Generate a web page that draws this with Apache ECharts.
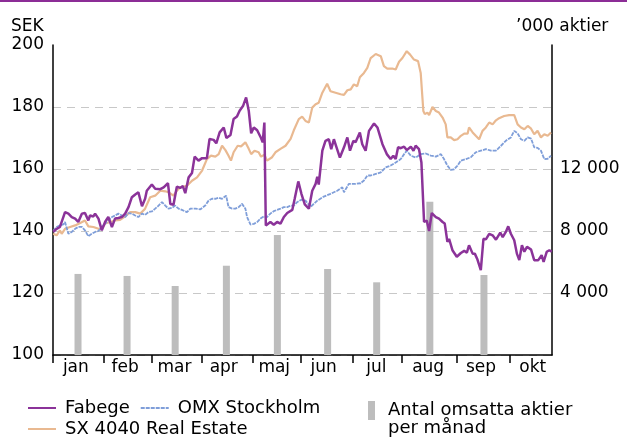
<!DOCTYPE html>
<html>
<head>
<meta charset="utf-8">
<script src="https://cdn.jsdelivr.net/npm/echarts@6/dist/echarts.min.js"></script>
<style>html,body{margin:0;padding:0;background:#fff}#c{width:627px;height:437px}</style>
</head>
<body>
<div id="c"></div>
<script>
// ---- data (x = trading-day index from 1 Jan) ----
const months = ['jan','feb','mar','apr','maj','jun','jul','aug','sep','okt'];
const monthStarts = [0,21,41,62,83,103,124.5,145,168,190];
const monthLabelPos = [9.5,30,50.5,71,92,112.5,134.5,156,178,199.5];
const leftTicks = [100,120,140,160,180,200];
const rightTickLabels = [4000,8000,12000];

const fabege = [[0.1,139.7],[1.5,140.7],[2.9,141.3],[3.6,140.7],[5,146.1],[6.4,145.6],[7.8,144.5],[9.2,144],[10.5,142.9],[12,145.6],[13.3,145.8],[14.7,143.4],[15.4,145],[16.8,144.7],[17.5,145.6],[18.9,144],[20.3,140.2],[21.7,143],[23,144.5],[24.5,141.3],[25.8,144],[27.2,144.2],[28.6,144.5],[30,145.6],[31.4,147.7],[32.8,150.9],[34.2,151.8],[35.5,152.5],[37,148],[38.3,150.4],[39,153],[41.1,155],[42.5,153.6],[44.6,153.5],[46,154.1],[47.8,155.4],[48.8,148.7],[50.1,148.5],[51.5,154.3],[52.9,153.9],[54,154.5],[55,152.2],[56.4,157.3],[57.8,158.7],[58.9,164],[60.5,162.7],[62,163.5],[64,163.5],[65.1,169.7],[66.8,169.4],[67.9,168.3],[69.3,171.8],[71,173.4],[72.1,170],[73.8,171],[75.1,176.1],[76.5,176.9],[77.6,178.8],[79,180.3],[80.3,183.1],[81.4,178.8],[82.4,171.5],[83.5,173.4],[84.9,172.5],[86.5,170],[87.2,168.6],[87.9,175],[88.5,141.8],[90.4,142.9],[91.8,142],[93.2,142.9],[94.6,142.4],[96,144.5],[97.4,145.8],[99.5,146.8],[100.5,150.4],[102,156],[103.3,152],[104.7,148.6],[106.4,147.2],[107.8,153],[109.2,155.2],[109.9,157.5],[110.5,155],[112,165.9],[113.3,169.1],[114.7,169.6],[115.7,166.4],[116.8,169.6],[117.9,167],[119.3,163.7],[121,167],[122.4,170.2],[123.5,165.9],[124.9,169.1],[125.8,168.6],[127.6,171.8],[128.6,168],[130,165.9],[131.4,172.3],[133.5,174.7],[134.9,173.4],[137,168],[138.8,164.8],[140.4,163.2],[141.5,164.3],[142.5,163.2],[143.5,167],[144.6,166.7],[146,167.2],[147.1,166.1],[148.8,167.2],[149.9,165.9],[150.8,167.5],[152.2,166.4],[153.2,162.1],[154.3,142.9],[155.4,143.4],[156.4,140],[157.5,145.8],[159.2,144.5],[160.5,144],[162,142.9],[162.9,142.4],[164,136.5],[164.7,137.5],[166.1,133.8],[167.9,131.7],[169.6,132.9],[171,133.6],[172.1,133],[173,135.4],[174.5,132.7],[175.4,132.7],[176.5,130.8],[177.9,127.4],[179,137.5],[180,137.3],[181.4,139.1],[182.8,138.6],[184.2,137.2],[186,139.5],[187,138],[188.3,139.7],[189.3,141.5],[190.4,139.1],[191.8,137],[192.9,132.7],[193.9,130.6],[195,135.4],[196,133.3],[197.1,134.9],[198.8,134],[200.1,130.6],[201.8,130.6],[203.2,132.2],[204,130],[205.3,133.3],[206.4,133.8],[207.4,133.3]];

const omx = [[0.1,140],[1.5,141.3],[2.9,141.8],[4.3,142.1],[5,142.9],[6.4,139.1],[7.8,139.7],[9.2,140.7],[10.5,141.3],[12,141.3],[13.3,140.2],[14.7,138.3],[16.1,139.1],[17.5,139.7],[18.9,140],[20.3,141.3],[21.7,142.4],[23,143.4],[24.5,144.5],[25.8,145],[27.2,145.6],[28.6,145],[30,144.5],[31.4,145.8],[32.8,145.6],[34.2,145],[35.5,144.5],[37,145.6],[38.3,145.2],[39.7,146.1],[41.1,146.3],[42.5,147.2],[43.9,148.2],[45.3,149.3],[46.7,148.2],[48,147.2],[49.5,147.5],[50.8,148.2],[52.2,147.2],[53.6,146.8],[55.7,146.1],[57.1,147.2],[59.2,147.2],[61.3,147],[63.3,148.2],[64.7,149.8],[66.1,150.4],[67.5,150.4],[68.9,150.7],[70.3,150.4],[72,151.4],[73,147.7],[74.5,147.2],[75.8,147.2],[77.2,147.7],[78.6,148.8],[80,147.2],[80.7,144.5],[82.1,142.1],[83.5,142.3],[84.9,142.9],[86.3,144],[87.6,144.7],[89,144.5],[90.4,145.6],[91.8,146.4],[93.2,146.8],[94.6,147.2],[96,147.7],[97.4,147.7],[98.8,148.2],[100.1,148.2],[101.5,149.3],[103.3,150.1],[105,149.8],[107.1,147.8],[109.9,149.8],[112.6,151.1],[115.4,152],[118.2,153],[120.3,154.1],[121,152.5],[123,155.2],[125.8,155.2],[127.9,155.4],[129.3,156.3],[130.7,157.9],[132.1,157.9],[134.2,158.4],[136.3,158.9],[138.3,160.5],[140.4,161.1],[142.5,162.1],[144.6,163.2],[146,164.8],[147.1,165.9],[148.8,164.3],[150.8,163.7],[152.9,164.8],[155,165],[157.1,164.3],[159.2,164],[161.3,164.8],[162.6,163.2],[164,161.1],[165.4,159.7],[166.8,159.9],[168.2,161.1],[169.6,162.7],[171.7,163.2],[173.8,163.8],[175.8,165.4],[177.9,165.9],[180,166.4],[182.1,165.9],[184.2,165.9],[186.3,167.5],[188.3,169.1],[190.4,170.2],[191.8,172.3],[193.2,171.5],[194.6,169.6],[196,169.1],[197.4,170.2],[198.8,169.8],[200.1,167],[201.5,166.8],[202.9,165.9],[204.3,163.2],[205.7,163.3],[207.1,164.3]];

const sx4040 = [[0.1,139.1],[1.5,138.6],[2.9,140.2],[3.6,139.1],[5,140.7],[7.1,141.3],[9.2,141.8],[11.3,142.6],[13.3,143.4],[14.7,141.5],[16.8,141.3],[18.9,140.7],[20.3,140.7],[21.7,142.4],[23.8,142.9],[25.8,143.4],[27.9,143.6],[30,144.7],[32.1,146.1],[34.2,146.1],[36.3,145.6],[38.3,147.2],[40.4,150.9],[42.5,151.4],[44.6,153],[46.7,152.8],[48,152.5],[50.1,151.4],[51.5,153],[52.9,154.1],[55.7,154.6],[57.8,156.2],[59.9,157.3],[62,159.5],[64,163.2],[65.7,164.3],[67.5,164],[68.9,164.8],[70.3,167.5],[71.7,166.1],[73,164.3],[74,162.7],[75.1,165.4],[76.8,167.5],[78.2,167.3],[80,168.6],[81.4,166.5],[82.4,164.8],[83.8,165.9],[85.5,165.4],[86.5,164],[87.9,164.6],[89,162.7],[91.1,163.8],[92.5,165.4],[94.6,166.5],[96.7,167.5],[98.8,169.7],[100.1,172.4],[102.2,176.1],[103.6,176.9],[105,175.5],[106.4,175],[107.8,179.8],[109.2,180.9],[110.5,181.4],[112,184.6],[114,187.5],[115.4,185.1],[117.5,184.6],[119.6,184.1],[121,183.9],[122.4,185.4],[123.8,185.7],[125.1,187.3],[126.5,186.7],[127.6,189.6],[129.3,191],[130.7,192.6],[132.1,195.8],[134.2,197.1],[136.3,196.4],[137.6,193.2],[139,192.4],[141.1,192.4],[142.5,192.1],[143.9,194.6],[145.3,195.8],[147.1,198],[148.5,196.9],[150.1,195.3],[151.8,194.8],[152.9,191],[154,178.7],[154.6,177.7],[155.7,178.2],[156.4,177.4],[157.8,180],[159.2,178.7],[160.5,178.2],[162,176.6],[163.3,174.4],[164,170.2],[165.4,170.2],[166.8,169.3],[168.2,169.6],[169.6,170.7],[171,171.4],[172.4,171.4],[173,173.4],[174.5,171.8],[175.8,170.7],[177.2,169.6],[178.6,172.3],[180,173.4],[181.4,175],[182.8,174.4],[184.2,175.7],[185.5,176.4],[187.6,177.1],[189.7,177.4],[191.8,177.4],[193.2,174.4],[194.6,173.4],[196,172.8],[197.4,173.9],[198.8,173],[200.1,171.2],[201.5,172.3],[202.9,170.2],[204.3,171.2],[205.7,170.7],[207.1,171.8]];

const barDays = [10.4,30.8,50.8,72.1,93.3,114.2,134.6,156.7,179.2];
const volumes = [5230,5100,4450,5760,7740,5550,4690,9890,5160];

// ---- chart ----
const FONT = 'DejaVu Sans';
const chart = echarts.init(document.getElementById('c'), null, {renderer: 'canvas'});
const fmtThousands = v => String(v).replace(/\B(?=(\d{3})+(?!\d))/g, ' ');

chart.setOption({
  animation: false,
  backgroundColor: '#fff',
  textStyle: {fontFamily: FONT, color: '#000'},
  grid: {left: 53, right: 75, top: 45, bottom: 82, containLabel: false},
  graphic: [
    {type: 'rect', left: 0, top: 0, shape: {width: 627, height: 2}, style: {fill: '#8c2d96'}},
    {type: 'text', left: 11, top: 18, style: {text: 'SEK', font: '17px "DejaVu Sans"', fill: '#000'}},
    {type: 'text', left: 516, top: 18, style: {text: '\u2019000 aktier', font: '17px "DejaVu Sans"', fill: '#000'}},
    {type: 'text', left: 388, top: 419, style: {text: 'per m\u00e5nad', font: '18px "DejaVu Sans"', fill: '#000'}}
  ],
  legend: [
    {data: ['Fabege', 'OMX Stockholm'], left: 22, top: 394, itemWidth: 28, itemHeight: 14, itemGap: 10,
     itemStyle: {opacity: 0},
     textStyle: {fontFamily: FONT, fontSize: 18, color: '#000', padding: [0, 0, 0, 4]}},
    {data: ['SX 4040 Real Estate'], left: 22, top: 415, itemWidth: 28, itemHeight: 14,
     itemStyle: {opacity: 0},
     textStyle: {fontFamily: FONT, fontSize: 18, color: '#000', padding: [0, 0, 0, 4]}},
    {data: [{name: 'Antal omsatta aktier', icon: 'rect'}], left: 363, top: 396, itemWidth: 7, itemHeight: 19,
     textStyle: {fontFamily: FONT, fontSize: 18, color: '#000', padding: [0, 0, 0, 8]}}
  ],
  xAxis: {
    type: 'value', min: 0, max: 207.5,
    axisLine: {show: true, lineStyle: {color: '#000', width: 1.5}},
    axisTick: {show: true, customValues: monthStarts, length: 8, inside: false, lineStyle: {color: '#000', width: 1.5}},
    axisLabel: {show: true, customValues: monthLabelPos, margin: 4, fontFamily: FONT, fontSize: 17, color: '#000',
      formatter: v => { const i = monthLabelPos.indexOf(v); return i >= 0 ? months[i] : ''; }},
    splitLine: {show: false}
  },
  yAxis: [
    {type: 'value', min: leftTicks[0], max: leftTicks[leftTicks.length - 1], interval: 20, position: 'left',
     axisLine: {show: true, lineStyle: {color: '#000', width: 1.5}},
     axisTick: {show: false},
     axisLabel: {margin: 9, fontFamily: FONT, fontSize: 17, color: '#000'},
     splitLine: {show: true, lineStyle: {color: ['#c8c8c8', '#c8c8c8', '#c8c8c8', '#c8c8c8', '#c8c8c8', 'rgba(0,0,0,0)'], type: [8, 6], width: 1.2}}},
    {type: 'value', min: 0, max: 20000, interval: 4000, position: 'right',
     axisLine: {show: true, lineStyle: {color: '#000', width: 1.5}},
     axisTick: {show: false},
     axisLabel: {margin: 8, fontFamily: FONT, fontSize: 17, color: '#000',
       formatter: v => rightTickLabels.indexOf(v) >= 0 ? fmtThousands(v) : ''},
     splitLine: {show: false}}
  ],
  series: [
    {name: 'Antal omsatta aktier', type: 'bar', yAxisIndex: 1, barWidth: 7,
     itemStyle: {color: '#bdbdbd'}, data: barDays.map((d, i) => [d, volumes[i]]), z: 1},
    {name: 'SX 4040 Real Estate', type: 'line', data: sx4040, symbol: 'none', smooth: false,
     lineStyle: {color: '#e9b991', width: 2.2}, itemStyle: {color: '#e9b991'}, z: 2},
    {name: 'OMX Stockholm', type: 'line', data: omx, symbol: 'none',
     lineStyle: {color: '#7f9ed9', width: 1.8, type: [4, 1]}, itemStyle: {color: '#7f9ed9'}, z: 3},
    {name: 'Fabege', type: 'line', data: fabege, symbol: 'none',
     lineStyle: {color: '#8b3399', width: 2.5}, itemStyle: {color: '#8b3399'}, z: 4}
  ]
});
</script>
</body>
</html>
